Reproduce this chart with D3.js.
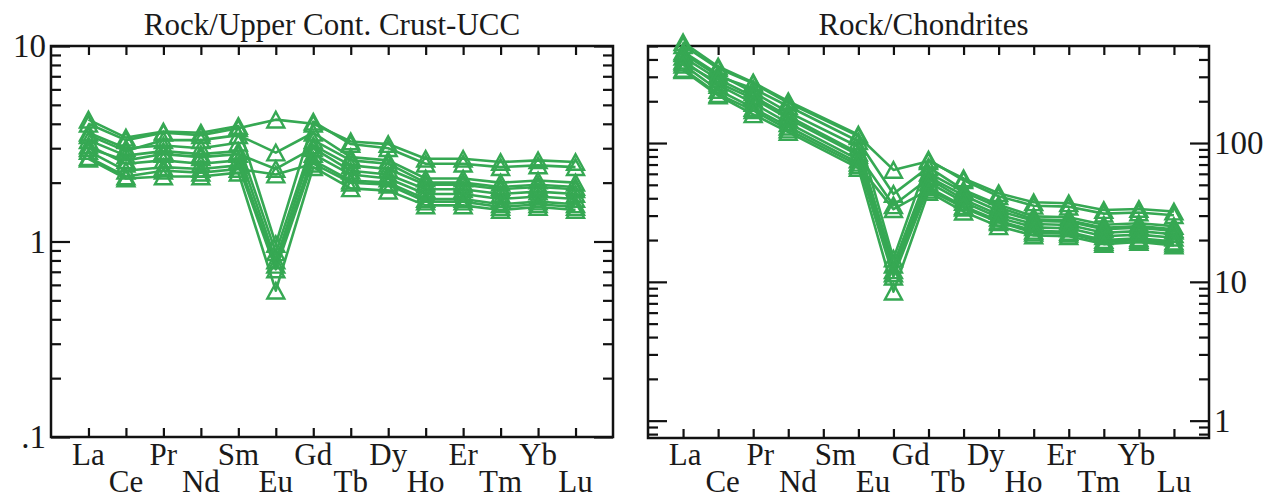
<!DOCTYPE html>
<html><head><meta charset="utf-8">
<script src="https://cdn.jsdelivr.net/npm/d3@7/dist/d3.min.js"></script>
<style>
html,body{margin:0;padding:0;background:#fff;}
svg{display:block;}
text{font-family:"Liberation Serif","Times New Roman",serif;fill:#1a1a1a;}
</style></head>
<body>
<svg id="chart" width="1270" height="499"></svg>
<script>
// ---- categories ----
const elements = ["La","Ce","Pr","Nd","Sm","Eu","Gd","Tb","Dy","Ho","Er","Tm","Yb","Lu"];
const chondSlots = ["La","Ce","Pr","Nd","Pm","Sm","Eu","Gd","Tb","Dy","Ho","Er","Tm","Yb","Lu"];

// ---- tick labels ----
const uccTickValues = [0.1, 1, 10];
const uccTickLabels = [".1", "1", "10"];
const chonTickValues = [1, 10, 100];
const chonTickLabels = ["1", "10", "100"];

// ---- titles ----
const uccTitle = "Rock/Upper Cont. Crust-UCC";
const chonTitle = "Rock/Chondrites";

// ---- Rock / UCC (values in element order La..Lu) ----
const uccS1  = [4.0, 3.3, 3.6, 3.5, 3.8, 4.2, 4.0, 3.25, 3.15, 2.65, 2.65, 2.55, 2.6, 2.55];
const uccS2  = [3.5, 2.9, 3.3, 3.3, 3.5, 2.85, 3.6, 2.7, 2.6, 2.1, 2.1, 2.0, 2.05, 2.0];
const uccS3  = [3.0, 2.6, 2.8, 2.7, 2.8, 2.35, 3.0, 2.3, 2.2, 1.85, 1.85, 1.75, 1.8, 1.75];
const uccS4  = [2.7, 2.15, 2.3, 2.25, 2.35, 2.2, 2.5, 2.0, 1.95, 1.6, 1.6, 1.5, 1.55, 1.5];
const uccS5  = [4.2, 3.4, 3.65, 3.6, 3.9, 0.97, 4.1, 3.15, 3.0, 2.5, 2.5, 2.4, 2.45, 2.4];
const uccS6  = [3.6, 3.0, 3.1, 3.0, 3.2, 0.88, 3.3, 2.6, 2.5, 2.0, 2.0, 1.9, 1.95, 1.9];
const uccS7  = [3.3, 2.75, 2.9, 2.8, 2.9, 0.8, 3.1, 2.45, 2.35, 1.95, 1.95, 1.85, 1.9, 1.85];
const uccS8  = [3.1, 2.5, 2.6, 2.5, 2.6, 0.76, 2.8, 2.2, 2.1, 1.75, 1.75, 1.65, 1.7, 1.65];
const uccS9  = [2.9, 2.3, 2.4, 2.35, 2.45, 0.72, 2.6, 2.05, 2.0, 1.65, 1.65, 1.55, 1.6, 1.55];
const uccS10 = [2.65, 2.1, 2.15, 2.15, 2.25, 0.56, 2.4, 1.87, 1.82, 1.53, 1.53, 1.45, 1.5, 1.45];

// ---- Rock / Chondrites (values in element order La..Lu, no Pm) ----
const chonS1  = [506, 345, 269, 195, 112, 64, 74, 55.6, 43.5, 37.4, 36.8, 32.9, 33.5, 32.1];
const chonS2  = [443, 303, 247, 184, 103, 43, 67, 46, 36, 29.6, 29.2, 25.8, 26.4, 25.2];
const chonS3  = [380, 272, 209, 150, 82, 35.6, 55.5, 39.3, 30.4, 26.1, 25.7, 22.6, 23.2, 22];
const chonS4  = [342, 225, 172, 125, 69, 33.4, 46, 34.2, 26.9, 22.6, 22.2, 19.4, 20, 18.9];
const chonS5  = [532, 356, 273, 200, 115, 14.7, 76, 53.9, 41.4, 35.3, 34.8, 31, 31.6, 30.2];
const chonS6  = [456, 314, 232, 167, 94, 13.3, 61, 44.5, 34.5, 28.2, 27.8, 24.5, 25.2, 23.9];
const chonS7  = [418, 288, 217, 156, 85, 12.1, 57, 41.9, 32.4, 27.5, 27.1, 23.9, 24.5, 23.3];
const chonS8  = [392, 262, 194, 139, 76, 11.5, 52, 37.6, 29, 24.7, 24.3, 21.3, 21.9, 20.8];
const chonS9  = [367, 241, 179, 131, 72, 10.9, 48, 35.1, 27.6, 23.3, 22.9, 20, 20.6, 19.5];
const chonS10 = [335, 220, 161, 120, 66, 8.5, 44.4, 32, 25.1, 21.6, 21.3, 18.7, 19.4, 18.3];

const uccSeries = [uccS1,uccS2,uccS3,uccS4,uccS5,uccS6,uccS7,uccS8,uccS9,uccS10];
const chonSeries = [chonS1,chonS2,chonS3,chonS4,chonS5,chonS6,chonS7,chonS8,chonS9,chonS10];

const GREEN = "#36a853";
const svg = d3.select("#chart");

function triPath(w, h){ return `M0,${-h}L${w},${h}L${-w},${h}Z`; }

function drawPanel(cfg){
  const g = svg.append("g");
  const {x, y, left, right, top, bottom} = cfg;

  const minorVals = y.ticks().filter(v => !cfg.majors.includes(v));
  const addY = (axisFn, tx, vals, size, labels) => {
    const ax = axisFn(y).tickValues(vals).tickSize(size).tickSizeOuter(0).tickPadding(5);
    if (labels) ax.tickFormat(v => labels[cfg.majors.indexOf(v)]); else ax.tickFormat("");
    const a = g.append("g").attr("transform", `translate(${tx},0)`).call(ax);
    a.select(".domain").remove();
    a.selectAll("line").attr("stroke","#111").attr("stroke-width",2.2);
    a.selectAll("text").style("font-size","33px").attr("fill","#1a1a1a");
    return a;
  };
  addY(d3.axisLeft, left, minorVals, -10, null);
  addY(d3.axisRight, right, minorVals, -10, null);
  addY(d3.axisLeft, left, cfg.majors, -19, cfg.labelSide === "left" ? cfg.majorLabels : null);
  addY(d3.axisRight, right, cfg.majors, -19, cfg.labelSide === "right" ? cfg.majorLabels : null);

  const xVals = d3.range(1, cfg.nSlots + 1);
  const addX = (axisFn, ty) => {
    const a = g.append("g").attr("transform", `translate(0,${ty})`)
      .call(axisFn(x).tickValues(xVals).tickSize(-9).tickSizeOuter(0).tickFormat(""));
    a.select(".domain").remove();
    a.selectAll("line").attr("stroke","#111").attr("stroke-width",2.2);
  };
  addX(d3.axisBottom, bottom);
  addX(d3.axisTop, top);

  g.append("rect").attr("x", left).attr("y", top)
    .attr("width", right - left).attr("height", bottom - top)
    .attr("fill","none").attr("stroke","#111").attr("stroke-width",2.5);

  g.selectAll("text.el").data(elements).enter().append("text")
    .attr("class","el")
    .attr("x", d => cfg.labelX(d))
    .attr("y", (d,i) => i % 2 === 0 ? 465 : 492)
    .attr("text-anchor","middle")
    .style("font-size","31px")
    .text(d => d);

  g.append("text").attr("x", (left + right) / 2 + cfg.titleShift).attr("y", 35)
    .attr("text-anchor","middle").style("font-size","31px").text(cfg.title);

  const line = d3.line().x((d,i) => x(cfg.pos(i))).y(d => y(d));
  cfg.series.forEach(s => {
    g.append("path").attr("d", line(s)).attr("fill","none")
      .attr("stroke", GREEN).attr("stroke-width", 2.6).attr("stroke-linejoin","round");
  });
  cfg.series.forEach(s => {
    g.selectAll(null).data(s).enter().append("path")
      .attr("d", triPath(8.5, 7.8))
      .attr("transform", (d,i) => `translate(${x(cfg.pos(i))},${y(d)})`)
      .attr("fill","none").attr("stroke", GREEN).attr("stroke-width", 2.4)
      .attr("stroke-linejoin","miter");
  });
}

// ---- left panel: Rock/UCC ----
const L = {left: 51, right: 613, top: 46, bottom: 437};
const xL = d3.scaleLinear().domain([0, elements.length + 1]).range([L.left, L.right]);
const yL = d3.scaleLog().domain([0.1, 10]).range([L.bottom, L.top]);
drawPanel(Object.assign({}, L, {
  x: xL, y: yL, nSlots: elements.length,
  majors: uccTickValues, majorLabels: uccTickLabels, labelSide: "left",
  labelX: d => xL(elements.indexOf(d) + 1),
  pos: i => i + 1,
  title: uccTitle, titleShift: 0,
  series: uccSeries
}));

// ---- right panel: Rock/Chondrites ----
const R = {left: 648, right: 1209, top: 46, bottom: 438};
const xR = d3.scaleLinear().domain([0, chondSlots.length + 1]).range([R.left, R.right]);
const yR = d3.scaleLog().domain([0.75, 500]).range([R.bottom, R.top]);
const labR = d3.scalePoint().domain(elements).range([xR(1) + 2, xR(chondSlots.length)]);
drawPanel(Object.assign({}, R, {
  x: xR, y: yR, nSlots: chondSlots.length,
  majors: chonTickValues, majorLabels: chonTickLabels, labelSide: "right",
  labelX: d => labR(d),
  pos: i => chondSlots.indexOf(elements[i]) + 1,
  title: chonTitle, titleShift: -5,
  series: chonSeries
}));
</script>
</body></html>
